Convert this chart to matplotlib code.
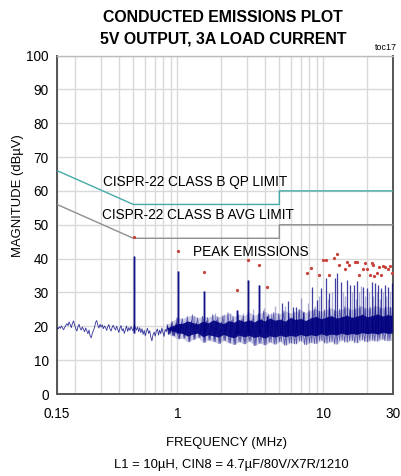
import numpy as np
import matplotlib
matplotlib.use("Agg")
import matplotlib.pyplot as plt
from matplotlib import font_manager as fm

# ---------------- data ----------------
qp_freq = [0.15, 0.5, 5.0, 5.0, 30.0]
qp_level = [66, 56, 56, 60, 60]
avg_freq = [0.15, 0.5, 5.0, 5.0, 30.0]
avg_level = [56, 46, 46, 50, 50]

# low-frequency noise trace 0.15 - 1.0 MHz (dBuV)
low_trace = [
    19.6, 19.2, 19.8, 19.4, 20.1, 19.5, 19.0, 19.7, 20.3, 20.8, 20.2, 21.3, 20.5, 19.6, 20.9, 21.6, 20.4, 19.3, 18.6, 19.9,
    20.6, 19.4, 18.9, 19.8, 19.1, 18.4, 19.5, 18.7, 17.8, 18.9, 17.2, 16.6, 17.9, 18.8, 19.6, 21.2, 21.7, 20.3, 19.5, 20.6,
    19.8, 20.4, 19.3, 20.1, 19.6, 18.8, 19.9, 20.5, 19.2, 18.6, 19.7, 20.3, 19.4, 18.9, 20.0, 19.1, 18.2, 19.5, 20.2, 18.7,
    19.3, 17.9, 19.0, 20.1, 18.5, 19.6, 18.8, 19.9, 19.2, 18.6,
    20.3, 19.5, 18.9, 19.8, 18.4, 19.6, 18.1, 19.3, 17.6, 18.8, 17.2, 18.5, 19.4, 17.9, 18.7, 16.8, 15.7, 17.5, 18.3, 17.1,
    18.6, 19.2, 17.4, 18.9, 17.8, 19.5, 18.2, 17.0, 19.1, 18.4, 20.2, 17.6, 19.3, 18.0, 20.6, 17.3, 19.8, 18.5, 21.0, 17.7]
low_start, low_stop = 0.15, 1.0

# dense noise band 0.85 - 30 MHz (envelopes, dBuV)
band_start, band_stop = 0.85, 30.0
core_top = [19.6, 20.1, 20.8, 20.9, 21.6, 21.1, 20.7, 21.6, 21.0, 21.9, 21.3, 20.8, 21.7, 21.2, 22.0, 21.4, 21.9, 21.3,
            22.2, 21.6, 22.4, 21.8, 22.1, 21.5, 22.6, 22.0, 22.3, 21.7, 22.5, 22.9, 22.2, 22.7, 23.1, 22.4, 22.8, 23.3,
            22.6, 23.0, 23.5, 22.8, 23.2, 23.6, 23.0, 23.4, 23.2]
core_bot = [19.0, 18.7, 18.1, 17.9, 17.1, 17.7, 18.0, 16.9, 17.5, 17.2, 16.8, 17.6, 17.0, 16.6, 17.4, 16.9, 17.3, 16.7,
            17.1, 16.5, 17.2, 16.8, 17.4, 16.9, 17.3, 17.0, 17.6, 17.1, 17.5, 17.2, 17.8, 17.3, 17.7, 17.4, 18.0, 17.5,
            17.9, 17.6, 18.2, 17.8, 18.1, 17.7, 18.3, 17.9, 18.0]
fringe_top = [20.6, 21.5, 22.6, 22.3, 22.9, 23.4, 22.5, 23.0, 22.6, 23.5, 22.8, 23.2, 24.0, 22.9, 23.6, 23.1, 24.2, 23.3,
              23.8, 24.5, 23.5, 24.1, 23.7, 24.6, 23.9, 24.3, 25.0, 24.1, 24.7, 25.2, 24.4, 24.9, 25.5, 24.6, 25.1, 25.8,
              24.9, 25.4, 26.0, 25.2, 25.7, 26.1, 25.4, 25.9, 25.6]
fringe_bot = [17.8, 17.2, 16.3, 16.5, 15.4, 16.1, 16.7, 15.2, 15.9, 15.5, 14.9, 15.8, 15.1, 14.6, 15.4, 14.8, 15.6, 14.3,
              15.0, 14.5, 15.3, 14.7, 15.5, 14.4, 15.1, 14.8, 15.7, 14.6, 15.2, 14.9, 15.8, 15.0, 15.5, 14.7, 15.9, 15.3,
              15.8, 15.1, 16.0, 15.4, 15.9, 15.6, 16.2, 15.7, 15.9]

# harmonic peaks (MHz, dBuV)
harm_freq = [0.505, 1.015, 1.53, 2.55, 3.06, 3.6, 4.09]
harm_level = [40.8, 36.4, 30.4, 24.8, 33.7, 32.2, 23.0]

# strong spikes above the band
spike_freq = [5.19, 5.76, 6.17, 6.51, 7.29, 8.37, 9.01, 9.6, 10.4, 11.0, 12.0, 12.5, 13.2, 14.6, 15.2, 16.2, 17.1,
              18.8, 20.0, 21.4, 22.6, 23.8, 24.7, 26.5, 27.9, 29.4]
spike_level = [26.8, 27.5, 25.8, 25.8, 24.3, 31.7, 27.8, 31.2, 34.2, 29.7, 34.4, 35.6, 33.2, 33.7, 32.2, 32.2, 33.5,
               31.7, 31.2, 33.2, 32.7, 32.2, 31.2, 32.2, 31.7, 32.7]

# faint spikes
faint_freq = [1.3, 1.8, 2.1, 2.3, 2.8, 3.3, 3.9, 4.4, 4.7, 5.5, 6.8, 7.0, 7.9, 8.8, 9.3, 10.7, 11.4, 13.6, 14.0, 15.6,
              16.7, 17.5, 18.2, 19.4, 20.6, 22.0, 23.2, 24.3, 25.5, 27.0, 28.6, 29.8]
faint_level = [23.0, 24.0, 23.5, 24.0, 24.0, 25.0, 25.5, 24.0, 26.0, 26.0, 25.0, 28.5, 27.0, 26.0, 29.0, 28.0, 30.0,
               30.0, 29.0, 30.0, 28.0, 30.0, 32.0, 29.0, 30.0, 29.0, 30.0, 28.0, 30.0, 29.0, 30.0, 28.0]

# peak emissions (MHz, dBuV)
pk_freq = [0.505, 1.017, 1.53, 2.55, 3.06, 3.6, 4.09, 7.77, 8.24, 9.33, 9.89, 10.4, 10.9, 11.8, 12.4, 12.9, 14.1, 14.5,
           15.1, 16.5, 17.0, 17.6, 18.6, 19.3, 19.8, 20.8, 21.4, 21.9, 22.4, 23.4, 24.2, 24.7, 25.8, 26.5, 27.8, 28.6, 29.4]
pk_level = [46.4, 42.3, 35.9, 30.6, 39.6, 38.0, 31.7, 35.6, 37.1, 35.3, 39.6, 39.6, 35.3, 40.3, 41.5, 38.0, 37.0, 38.9,
            38.0, 38.9, 39.1, 35.2, 36.9, 38.6, 36.9, 35.3, 38.6, 38.1, 35.0, 35.8, 37.6, 35.2, 37.8, 37.4, 36.8, 37.8, 35.6]

x_ticks = [0.15, 1, 10, 30]
x_ticklabels = ["0.15", "1", "10", "30"]
y_ticks = list(range(0, 101, 10))

# ---------------- fonts ----------------
def has_font(name):
    try:
        fm.findfont(fm.FontProperties(family=name), fallback_to_default=False)
        return True
    except Exception:
        return False

NARROW = has_font("Liberation Sans Narrow")
FAM = ["Liberation Sans Narrow", "Liberation Sans", "DejaVu Sans"] if NARROW else ["Liberation Sans", "DejaVu Sans"]
plt.rcParams["font.family"] = FAM
s = 1.0 if NARROW else 0.85

NAVY = "#000080"
GRID = "#D9D9D9"

fig = plt.figure(figsize=(4.01, 4.76), dpi=100)
ax = fig.add_axes([57 / 401, 82 / 476, 336 / 401, 338.5 / 476])
ax.set_xscale("log")
ax.set_xlim(0.15, 30)
ax.set_ylim(0, 100)

# grid
ax.set_yticks(y_ticks)
ax.set_xticks(x_ticks)
ax.set_xticklabels(x_ticklabels)
ax.xaxis.set_minor_locator(matplotlib.ticker.LogLocator(base=10, subs=np.arange(2, 10), numticks=20))
ax.xaxis.set_minor_formatter(matplotlib.ticker.NullFormatter())
ax.grid(True, which="both", axis="x", color=GRID, lw=1.0)
ax.grid(True, which="major", axis="y", color=GRID, lw=1.0)
ax.set_axisbelow(True)
ax.tick_params(which="both", length=0)
ax.tick_params(axis="y", pad=6, labelsize=11.5 * s)
ax.tick_params(axis="x", pad=9, labelsize=11.5 * s)

for side in ["left", "bottom", "right"]:
    ax.spines[side].set_color("#555555")
    ax.spines[side].set_linewidth(1.4)
ax.spines["top"].set_color("#BBBBBB")
ax.spines["top"].set_linewidth(1.0)

# dense band
bf = np.geomspace(band_start, band_stop, len(core_top))
ax.fill_between(bf, fringe_bot, fringe_top, color=NAVY, alpha=0.2, lw=0, zorder=2)
ax.fill_between(bf, core_bot, core_top, color=NAVY, alpha=0.9, lw=0, zorder=2)
# zigzag texture from the envelopes
zz_f = np.geomspace(band_start, band_stop, 2 * len(fringe_top))
ax.plot(zz_f, np.ravel(np.column_stack([fringe_top, fringe_bot])), color=NAVY, lw=0.6, alpha=0.55, zorder=2)
zz_f2 = np.geomspace(band_start * 1.03, band_stop * 0.99, 2 * len(core_top))
ax.plot(zz_f2, np.ravel(np.column_stack([fringe_bot, core_top])), color=NAVY, lw=0.6, alpha=0.55, zorder=2)

# low-frequency trace
lf = np.geomspace(low_start, low_stop, len(low_trace))
ax.plot(lf, low_trace, color=NAVY, lw=0.6, alpha=0.8, zorder=3)

# spikes
ax.vlines(faint_freq, 18, faint_level, color=NAVY, lw=1.0, alpha=0.3, zorder=2)
ax.vlines(spike_freq, 18, spike_level, color=NAVY, lw=0.9, alpha=0.75, zorder=3)
ax.vlines(harm_freq, 18, harm_level, color=NAVY, lw=2.2, alpha=0.35, zorder=3)
ax.vlines(harm_freq, 18, harm_level, color=NAVY, lw=0.8, alpha=0.9, zorder=3)

# limits
ax.plot(qp_freq, qp_level, color="#45A9A9", lw=1.0, zorder=4)
ax.plot(avg_freq, avg_level, color="#8F8F8F", lw=1.0, zorder=4)

# peak emissions
ax.plot(pk_freq, pk_level, ls="none", marker="o", ms=1.3, mfc="#C8413A", mec="#C8413A", zorder=5)

# annotations
fs_lbl = 11.5 * s
fig.text(103 / 401, 1 - 182 / 476, "CISPR-22 CLASS B QP LIMIT", fontsize=fs_lbl, va="center", ha="left")
fig.text(102 / 401, 1 - 215 / 476, "CISPR-22 CLASS B AVG LIMIT", fontsize=fs_lbl, va="center", ha="left")
fig.text(193 / 401, 1 - 252 / 476, "PEAK EMISSIONS", fontsize=fs_lbl, va="center", ha="left")

# titles
fig.text(223 / 401, 1 - 21.5 / 476, "CONDUCTED EMISSIONS PLOT", fontsize=13.5 * s, fontweight="bold",
         ha="center", va="baseline")
fig.text(223 / 401, 1 - 43 / 476, "5V OUTPUT, 3A LOAD CURRENT", fontsize=13.5 * s, fontweight="bold",
         ha="center", va="baseline")
fig.text(397 / 401, 1 - 50 / 476, "toc17", fontsize=7.5 * s, ha="right", va="baseline")

fig.text(18 / 401, 1 - 196 / 476, "MAGNITUDE (dB\u00b5V)", fontsize=11 * s, rotation=90, ha="center", va="center")
fig.text(226 / 401, 1 - 443 / 476, "FREQUENCY (MHz)", fontsize=11 * s, ha="center", va="center")
fig.text(231 / 401, 1 - 465 / 476, "L1 = 10\u00b5H, CIN8 = 4.7\u00b5F/80V/X7R/1210", fontsize=11 * s,
         ha="center", va="center")

fig.savefig("out.png", dpi=100)
